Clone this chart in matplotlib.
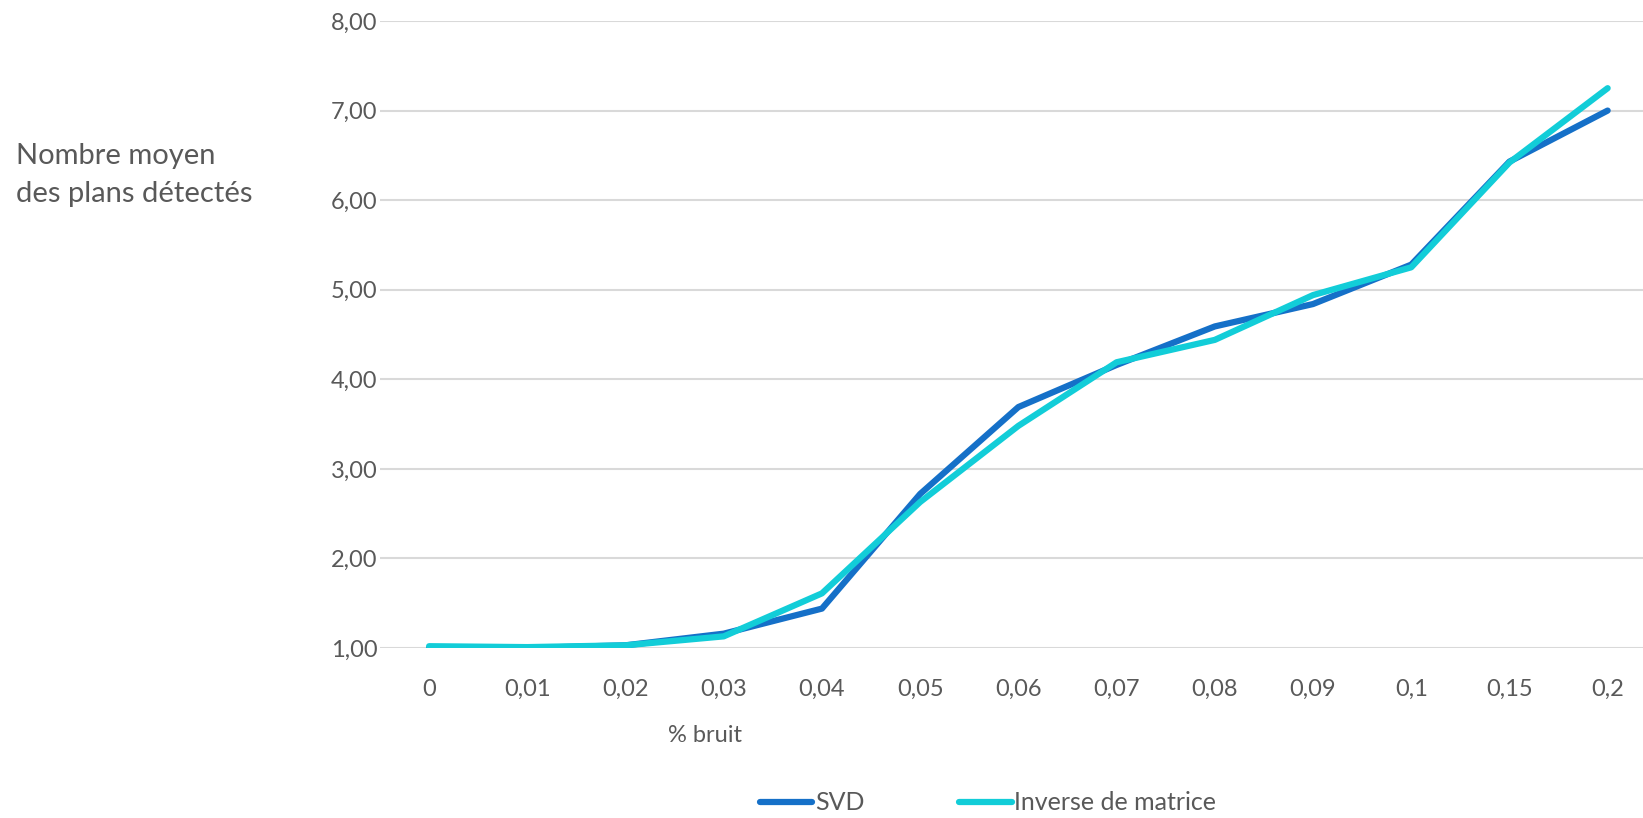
import matplotlib
matplotlib.use('Agg')
import matplotlib.pyplot as plt

# Données
bruit = ['0', '0,01', '0,02', '0,03', '0,04', '0,05', '0,06', '0,07', '0,08', '0,09', '0,1', '0,15', '0,2']
svd = [1.00, 1.00, 1.03, 1.16, 1.44, 2.72, 3.69, 4.16, 4.59, 4.84, 5.28, 6.43, 7.00]
inverse = [1.02, 1.01, 1.03, 1.13, 1.61, 2.63, 3.48, 4.19, 4.44, 4.94, 5.25, 6.42, 7.25]
y_ticks = [1, 2, 3, 4, 5, 6, 7, 8]

plt.rcParams['font.family'] = ['Lato', 'DejaVu Sans']
gris = '#595959'

fig = plt.figure(figsize=(16.43, 8.18), dpi=100)
W, H = 1643, 818
ax = fig.add_axes([380 / W, 1 - 648 / H, (1643 - 380) / W, (648 - 21) / H])

x = list(range(len(bruit)))
l1, = ax.plot(x, svd, color='#1570C8', lw=4.5, solid_capstyle='round', solid_joinstyle='round', label='SVD', zorder=3)
l2, = ax.plot(x, inverse, color='#12CDD8', lw=4.5, solid_capstyle='round', solid_joinstyle='round', label='Inverse de matrice', zorder=4)

ax.set_xlim(-0.5, 12.36)
ax.set_ylim(1, 8)
ax.set_yticks(y_ticks)
ax.set_yticklabels(['%d,00' % v for v in y_ticks])
ax.set_xticks(x)
ax.set_xticklabels(bruit)
ax.grid(axis='y', color='#D9D9D9', lw=1.5)
ax.set_axisbelow(True)
for s in ax.spines.values():
    s.set_visible(False)
ax.tick_params(axis='both', length=0, labelsize=17, labelcolor=gris)
ax.tick_params(axis='x', pad=22)
ax.tick_params(axis='y', pad=2)

# Titres des axes
fig.text(16 / W, 1 - 175 / H, 'Nombre moyen\ndes plans détectés', fontsize=21, color=gris,
         ha='left', va='center', linespacing=1.6)
fig.text(705 / W, 1 - 735 / H, '% bruit', fontsize=17, color=gris, ha='center', va='center')

# Légende
leg = fig.legend(handles=[l1, l2], loc='center', bbox_to_anchor=(988 / W, 1 - 803 / H), ncol=2,
                 frameon=False, fontsize=18, handlelength=2.1, handletextpad=0.1,
                 columnspacing=3.8, labelcolor=gris)

fig.savefig('out.png', dpi=100)
